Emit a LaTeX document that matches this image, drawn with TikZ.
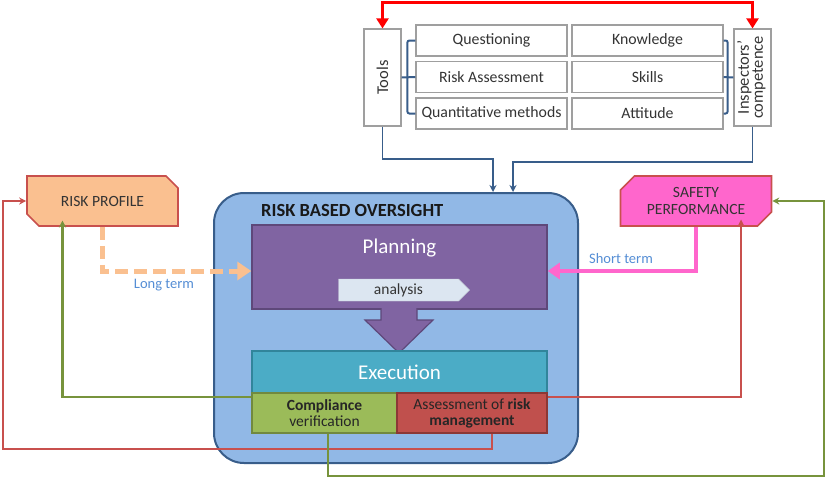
\documentclass[tikz,border=0pt]{standalone}
\usepackage{fontspec}
\usepackage{graphicx}
\setmainfont{Carlito}
\usetikzlibrary{positioning,arrows.meta,shapes.misc,shapes.symbols}

\definecolor{rbofill}{RGB}{145,184,230}
\definecolor{rboedge}{RGB}{56,93,138}
\definecolor{planfill}{RGB}{128,100,162}
\definecolor{planedge}{RGB}{94,72,122}
\definecolor{anafill}{RGB}{220,230,241}
\definecolor{execfill}{RGB}{75,172,198}
\definecolor{execedge}{RGB}{49,133,155}
\definecolor{compfill}{RGB}{155,187,89}
\definecolor{compedge}{RGB}{113,137,63}
\definecolor{assfill}{RGB}{192,80,77}
\definecolor{assedge}{RGB}{140,56,54}
\definecolor{proffill}{RGB}{250,192,144}
\definecolor{safefill}{RGB}{255,102,204}
\definecolor{linkred}{RGB}{200,80,77}
\definecolor{linkgreen}{RGB}{119,147,60}
\definecolor{linkblue}{RGB}{56,93,138}
\definecolor{termblue}{RGB}{85,142,213}
\definecolor{textgray}{RGB}{52,52,52}

\begin{document}
\begin{tikzpicture}[x=1pt,y=-1pt,
    gridbox/.style={draw=gray!75, line width=1.2pt, fill=white, inner sep=0pt,
      minimum width=151pt, minimum height=31pt, text=textgray,
      font=\fontsize{15.8}{17}\selectfont},
    sidebox/.style={draw=gray!75, line width=1.2pt, fill=white, inner sep=0pt,
      minimum width=37pt, minimum height=97pt, text=textgray,
      font=\fontsize{16.5}{17}\selectfont},
    bracket/.style={draw=linkblue, line width=2pt, rounded corners=2pt},
    feedin/.style={draw=linkblue, line width=1.8pt, -{Stealth[length=7pt,width=7pt]}},
    feedback/.style={line width=2.2pt, -{Stealth[length=7pt,width=7pt]}},
    stepbig/.style={inner sep=0pt, text=white, font=\fontsize{21}{23}\selectfont},
    outcome/.style={inner sep=0pt, line width=1.6pt, minimum width=151pt,
      minimum height=50pt, chamfered rectangle, chamfered rectangle xsep=7pt,
      chamfered rectangle ysep=7pt, text=textgray, align=center,
      font=\fontsize{15.6}{17}\selectfont},
    termlabel/.style={text=termblue, font=\fontsize{14.5}{16}\selectfont}]

  \useasboundingbox[fill=white] (0,0) rectangle (827,480);

  % Tools and competence columns
  \node[sidebox] (tools) at (382.5,77.5) {\rotatebox{90}{Tools}};
  \node[sidebox] (insp) at (752.5,77.5)
    {\rotatebox{90}{\begin{tabular}{@{}c@{}}Inspectors'\\[-3pt]competence\end{tabular}}};
  \foreach \txt [count=\i] in {Questioning, Risk Assessment, Quantitative methods} {
    \node[gridbox] (q\i) at (491.5,{4+36.5*\i}) {\txt};
  }
  \foreach \txt [count=\i] in {Knowledge, Skills, Attitude} {
    \node[gridbox] (k\i) at (647.5,{4+36.5*\i}) {\txt};
  }
  \draw[bracket] (tools.east) -- (q2.west);
  \draw[bracket] (q1.west) -- ++(-8,0) |- (q3.west);
  \draw[bracket] (k2.east) -- (insp.west);
  \draw[bracket] (k1.east) -- ++(4,0) |- (k3.east);
  \draw[red, line width=2.4pt, {Triangle[length=10pt,width=12pt]}-{Triangle[length=10pt,width=12pt]}]
    (tools.north) -- ++(0,-26) -| (insp.north);

  % Risk based oversight
  \node[draw=rboedge, line width=2pt, fill=rbofill, rounded corners=30pt,
    minimum width=364pt, minimum height=270pt] (rbo) at (396,328) {};
  \node[anchor=west, inner sep=0pt, text=black!90,
    font=\bfseries\fontsize{18.5}{20}\selectfont] (rbotitle) at (261,210) {RISK BASED OVERSIGHT};
  \coordinate (inL) at ([xshift=97pt]rbo.north);
  \coordinate (inR) at ([xshift=117pt]rbo.north);
  \draw[feedin] (tools.south) -- ++(0,32) -| (inL);
  \draw[feedin] (insp.south) -- ++(0,35) -| (inR);

  \node[draw=planedge, line width=1.5pt, fill=planfill, minimum width=295pt,
    minimum height=84pt] (plan) at (399.5,267) {};
  \node[stepbig] (plantxt) at (399.5,248) {Planning};
  \node[signal, signal to=east, signal pointer angle=90, fill=anafill, draw=anafill!80!gray,
    minimum width=131pt, minimum height=22pt, inner sep=0pt, text=textgray,
    font=\fontsize{15.5}{17}\selectfont] (ana) at (398.5,290) {analysis};
  \filldraw[fill=planfill, draw=planedge, line width=1.2pt]
    (381,308) -- (381,320) -- (365,320) -- (399,353) -- (433,320) -- (417,320) -- (417,308);

  \node[draw=execedge, line width=1.5pt, fill=execfill, minimum width=295pt,
    minimum height=42pt, stepbig] (exec) at (399.5,372) {Execution};
  \node[draw=compedge, line width=1.5pt, fill=compfill, minimum width=145pt,
    minimum height=40pt, inner sep=0pt, align=center, text=black!85,
    font=\fontsize{15.5}{16}\selectfont] (comp) at (324.5,413)
    {\textbf{Compliance}\\verification};
  \node[draw=assedge, line width=1.5pt, fill=assfill, minimum width=150pt,
    minimum height=40pt, inner sep=0pt, align=center, text=black!85,
    font=\fontsize{15.5}{16}\selectfont] (assess) at (472,413)
    {Assessment of \textbf{risk}\\\textbf{management}};

  % Risk profile and safety performance
  \node[outcome, draw=linkred, fill=proffill,
    chamfered rectangle corners={north east, south west}] (riskprof) at (102.5,201) {RISK PROFILE};
  \node[outcome, draw=linkred, fill=safefill,
    chamfered rectangle corners={north west, south east}] (safety) at (696,201) {SAFETY\\PERFORMANCE};

  \draw[draw=proffill, line width=5pt, dash pattern=on 13pt off 6pt,
    -{Triangle[length=14pt,width=18pt]}] (riskprof.south) |- ([yshift=-4pt]plan.west);
  \node[termlabel] (longlbl) at (164,285) {Long term};
  \draw[draw=safefill, line width=4pt, -{Triangle[length=12pt,width=16pt]}]
    (safety.south) |- ([yshift=-4pt]plan.east);
  \node[termlabel] (shortlbl) at (621,259) {Short term};

  % Feedback loops
  \draw[feedback, draw=linkgreen] ([yshift=-5pt]comp.north west) -| ([xshift=30pt]riskprof.south west);
  \draw[feedback, draw=linkred] ([xshift=20pt]assess.south) -- ++(0,15) -- ++(-489,0) |- (riskprof.west);
  \draw[feedback, draw=linkred] ([yshift=-5pt]assess.north east) -| ([xshift=-24pt]safety.south east);
  \draw[feedback, draw=linkgreen] ([xshift=3.5pt]comp.south) -- ++(0,42) -- ++(496,0) |- (safety.east);
\end{tikzpicture}
\end{document}
